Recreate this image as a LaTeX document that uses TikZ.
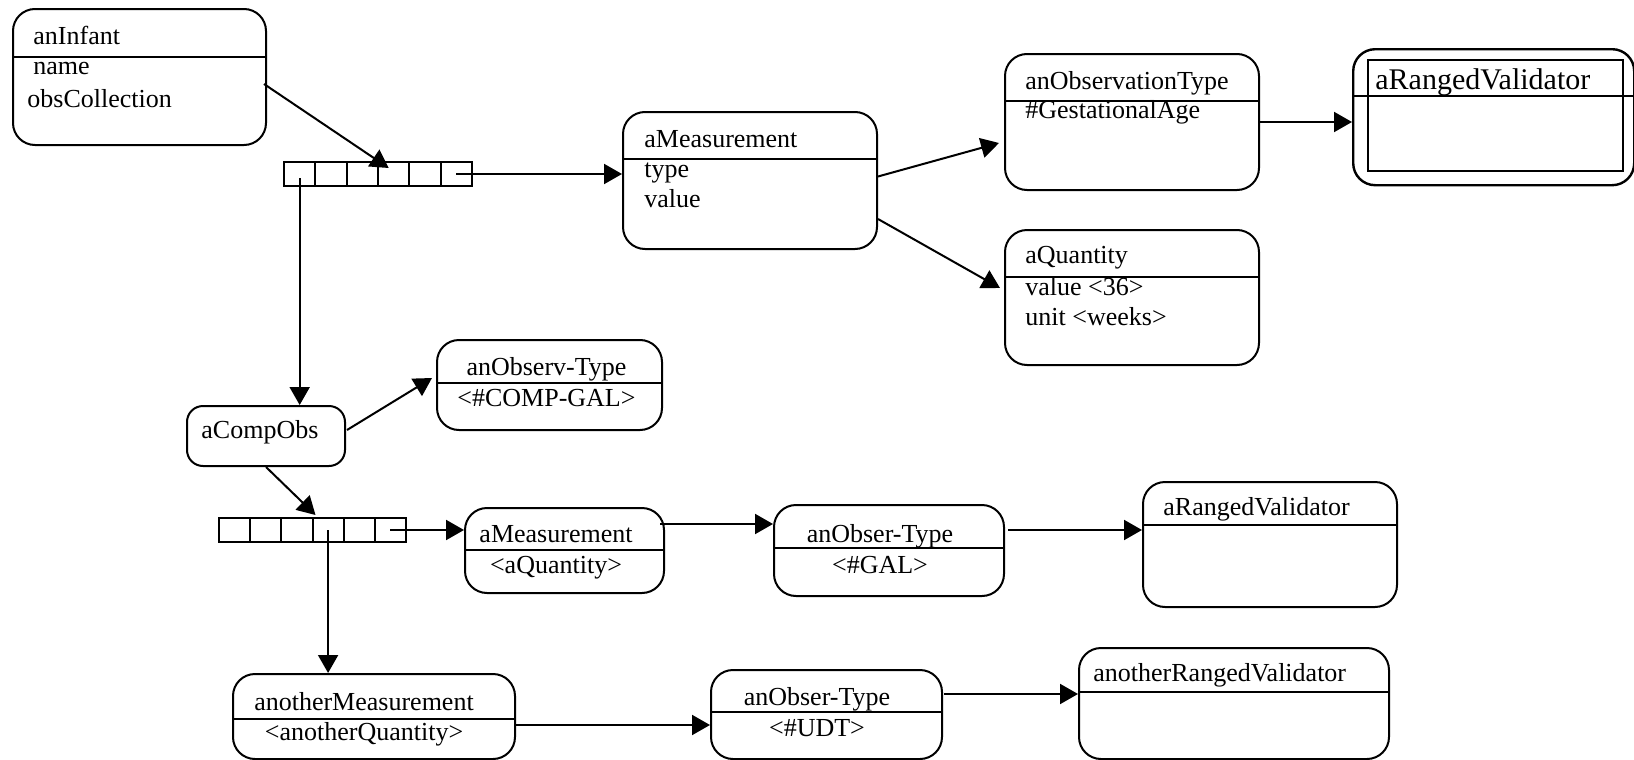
\documentclass[tikz,border=0pt]{standalone}
\usepackage{fontspec}
\setmainfont{Liberation Serif}
\usetikzlibrary{arrows.meta,calc}

\tikzset{
  obj/.style={draw, line width=1pt, rounded corners=11pt, anchor=north west, inner sep=0pt},
  cell/.style={draw, line width=1pt, anchor=north west, inner sep=0pt,
               minimum height=12pt},
  lbl/.style={inner sep=0pt, font=\fontsize{13}{15}\selectfont},
  biglbl/.style={inner sep=0pt, font=\fontsize{15}{18}\selectfont},
  divider/.style={line width=1pt},
  link/.style={line width=1pt, -{Triangle[length=9pt,width=10pt]}},
}

\begin{document}
\begin{tikzpicture}[x=0.5pt, y=-0.5pt]
\useasboundingbox (0,0) rectangle (1634,760);

% ---- the infant and its observation collection ----
\node[obj, minimum width=126.5pt, minimum height=68pt] (anInfant) at (12,8) {};
\draw[divider] (anInfant.west |- 0,57) -- (anInfant.east |- 0,57);
\node[lbl, anchor=base west] (anInfantT) at (33,45) {anInfant};
\node[lbl, anchor=base west] (anInfantA) at (33,75) {name};
\node[lbl, anchor=base west] (anInfantB) at (27,107) {obsCollection};

\foreach \i in {1,...,6}
  \node[cell, minimum width=15.667pt] (ca\i) at ({283+31.333*(\i-1)},161) {};

% ---- measurement with its type and quantity ----
\node[obj, minimum width=127pt, minimum height=68.5pt] (aMeas) at (622,111) {};
\draw[divider] (aMeas.west |- 0,159) -- (aMeas.east |- 0,159);
\node[lbl, anchor=base west] (aMeasT) at (644,147) {aMeasurement};
\node[lbl, anchor=base west] (aMeasA) at (644,177) {type};
\node[lbl, anchor=base west] (aMeasB) at (644,207) {value};

\node[obj, minimum width=127pt, minimum height=68pt] (obsType) at (1004,53) {};
\draw[divider] (obsType.west |- 0,101) -- (obsType.east |- 0,101);
\node[lbl, anchor=base west] (obsTypeT) at (1025,89) {anObservationType};
\node[lbl, anchor=base west] (obsTypeA) at (1025,118) {\#GestationalAge};

\node[obj, minimum width=127pt, minimum height=67.5pt] (aQty) at (1004,229) {};
\draw[divider] (aQty.west |- 0,277) -- (aQty.east |- 0,277);
\node[lbl, anchor=base west] (aQtyT) at (1025,263) {aQuantity};
\node[lbl, anchor=base west] (aQtyA) at (1025,295) {value <36>};
\node[lbl, anchor=base west] (aQtyB) at (1025,325) {unit <weeks>};

% ---- validator drawn with a double frame ----
\node[obj, line width=1.2pt, minimum width=140.5pt, minimum height=68pt] (rvOne) at (1352,48) {};
\node[draw, line width=1.2pt, anchor=north west, inner sep=0pt,
      minimum width=127.5pt, minimum height=55.5pt] (rvOneIn) at (1367,59) {};
\draw[line width=1.2pt] (rvOne.west |- 0,96) -- (rvOne.east |- 0,96);
\node[biglbl, anchor=base west] (rvOneT) at (1375,90) {aRangedValidator};

% ---- composite observation ----
\node[obj, rounded corners=8pt, minimum width=79pt, minimum height=30pt] (compObs) at (186,405) {};
\node[lbl, anchor=base west] (compObsT) at (201,438) {aCompObs};

\node[obj, minimum width=112.5pt, minimum height=45pt] (compType) at (436,339) {};
\draw[divider] (compType.west |- 0,383) -- (compType.east |- 0,383);
\node[lbl, anchor=base] (compTypeT) at (546.5,375) {anObserv-Type};
\node[lbl, anchor=base] (compTypeA) at (546.5,406) {<\#COMP-GAL>};

\foreach \i in {1,...,6}
  \node[cell, minimum width=15.583pt] (cb\i) at ({218+31.167*(\i-1)},517) {};

% ---- first component ----
\node[obj, minimum width=99.5pt, minimum height=42.5pt] (meas2) at (464,507) {};
\draw[divider] (meas2.west |- 0,550) -- (meas2.east |- 0,550);
\node[lbl, anchor=base] (meas2T) at (556,542) {aMeasurement};
\node[lbl, anchor=base] (meas2A) at (556,573) {<aQuantity>};

\node[obj, minimum width=115pt, minimum height=45.5pt] (galType) at (773,504) {};
\draw[divider] (galType.west |- 0,548) -- (galType.east |- 0,548);
\node[lbl, anchor=base] (galTypeT) at (880,542) {anObser-Type};
\node[lbl, anchor=base] (galTypeA) at (880,573) {<\#GAL>};

\node[obj, minimum width=127pt, minimum height=62.5pt] (rvTwo) at (1142,481) {};
\draw[divider] (rvTwo.west |- 0,525) -- (rvTwo.east |- 0,525);
\node[lbl, anchor=base west] (rvTwoT) at (1163,515) {aRangedValidator};

% ---- second component ----
\node[obj, minimum width=141pt, minimum height=42.5pt] (meas3) at (232,673) {};
\draw[divider] (meas3.west |- 0,719) -- (meas3.east |- 0,719);
\node[lbl, anchor=base] (meas3T) at (364,710) {anotherMeasurement};
\node[lbl, anchor=base] (meas3A) at (364,740) {<anotherQuantity>};

\node[obj, minimum width=115.5pt, minimum height=44.5pt] (udtType) at (710,669) {};
\draw[divider] (udtType.west |- 0,712) -- (udtType.east |- 0,712);
\node[lbl, anchor=base] (udtTypeT) at (817,705) {anObser-Type};
\node[lbl, anchor=base] (udtTypeA) at (817,736) {<\#UDT>};

\node[obj, minimum width=155pt, minimum height=55.5pt] (rvThree) at (1078,647) {};
\draw[divider] (rvThree.west |- 0,692) -- (rvThree.east |- 0,692);
\node[lbl, anchor=base west] (rvThreeT) at (1093,681) {anotherRangedValidator};

% ---- connectors ----
\draw[link] ($(anInfant.east)+(-3,7)$) -- ($(ca4.north)+(-5,7)$);
\draw[link] (ca6.center) -- (aMeas.west |- ca6.center);
\draw[link] ($(ca1.center)+(0,4)$) -- (ca1.center |- compObs.north);
\draw[link] ($(aMeas.east)+(0,-4)$) -- ($(obsType.west)+(-5,21)$);
\draw[link] ($(aMeas.east)+(0,38.5)$) -- ($(aQty.west)+(-4,-9.5)$);
\draw[link] (obsType.east) -- (rvOne.west |- obsType.east);

\draw[link] ($(compObs.east)+(1,-6)$) -- ($(compType.west)+(-4,-7)$);
\draw[link] (compObs.south) -- ($(cb4.north west)+(4,-2)$);
\draw[link] (cb6.center) -- (meas2.west |- cb6.center);
\draw[link] (cb4.center) -- (cb4.center |- meas3.north);

\coordinate (m2out) at ($(meas2.east)+(-5,-26.5)$);
\draw[link] (m2out) -- (galType.west |- m2out);
\coordinate (galout) at ($(galType.east)+(3,-20.5)$);
\draw[link] (galout) -- (rvTwo.west |- galout);

\coordinate (m3out) at ($(meas3.east)+(0,8.5)$);
\draw[link] (m3out) -- (udtType.west |- m3out);
\coordinate (udtout) at ($(udtType.east)+(1,-20.5)$);
\draw[link] (udtout) -- (rvThree.west |- udtout);
\end{tikzpicture}
\end{document}
